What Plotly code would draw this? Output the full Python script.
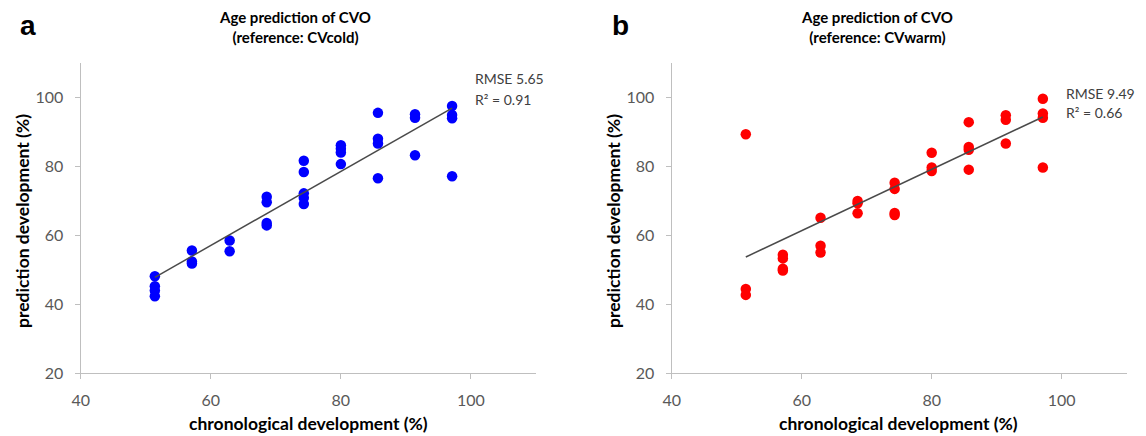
import plotly.graph_objects as go

# ---- data ----
cold_x = [51.4]*4 + [57.1]*3 + [62.9]*2 + [68.6]*4 + [74.3]*5 + [80.0]*4 + [85.7]*4 + [91.4]*3 + [97.1]*4
cold_y = [48.1, 45.2, 44.0, 42.3,
          55.6, 52.4, 51.8,
          58.5, 55.4,
          71.2, 69.6, 63.6, 62.9,
          81.7, 78.4, 72.2, 70.9, 69.1,
          86.2, 85.2, 84.1, 80.7,
          95.6, 88.1, 86.7, 76.6,
          95.2, 94.2, 83.3,
          97.6, 95.0, 94.0, 77.2]

warm_x = [51.4]*3 + [57.1]*4 + [62.9]*3 + [68.6]*3 + [74.3]*4 + [80.0]*3 + [85.7]*4 + [91.4]*3 + [97.1]*4
warm_y = [89.4, 44.4, 42.7,
          54.4, 53.3, 50.3, 49.8,
          65.1, 57.0, 55.0,
          70.0, 69.3, 66.4,
          75.3, 73.5, 66.5, 65.9,
          84.0, 79.7, 78.7,
          92.9, 85.7, 84.9, 79.1,
          94.9, 93.6, 86.7,
          99.7, 95.4, 94.2, 79.7]

# trendline end values as drawn in the reference
trend_x = [51.4, 97.1]
trend_cold = [47.8, 97.0]
trend_warm = [53.7, 94.4]

x_ticks = [40, 60, 80, 100]
y_ticks = [20, 40, 60, 80, 100]
stats_cold = ["RMSE 5.65", "R² = 0.91"]
stats_warm = ["RMSE 9.49", "R² = 0.66"]

W, H = 1146, 436
def px(x): return x / W
def py(y): return 1 - y / H

fig = go.Figure()

def add_panel(xs, ys, ty, color, xa, ya):
    fig.add_trace(go.Scatter(x=xs, y=ys, mode="markers",
                             marker=dict(color=color, size=10.5, line=dict(width=0)),
                             xaxis=xa, yaxis=ya, showlegend=False, hoverinfo="x+y"))
    fig.add_trace(go.Scatter(x=trend_x, y=ty, mode="lines",
                             line=dict(color="#4a4a4a", width=1.5),
                             xaxis=xa, yaxis=ya, showlegend=False, hoverinfo="skip"))

add_panel(cold_x, cold_y, trend_cold, "#0000FF", "x", "y")
add_panel(warm_x, warm_y, trend_warm, "#FF0000", "x2", "y2")

TICKFONT = dict(family="Lato, 'Open Sans', sans-serif", size=16, color="#595959")
axis_common = dict(showgrid=False, zeroline=False, showline=True, linecolor="#BFBFBF",
                   linewidth=1.2, ticks="outside", ticklen=5, tickcolor="#BFBFBF",
                   tickfont=TICKFONT, automargin=False)

top_px, bot_px = 63.3, 373.0
fig.update_layout(
    template="none",
    width=W, height=H, margin=dict(l=0, r=0, t=0, b=0, pad=0),
    paper_bgcolor="white", plot_bgcolor="white",
    xaxis=dict(domain=[px(80.7), px(536)], range=[40, 110], tickvals=x_ticks,
               anchor="y", ticklabelstandoff=8, **axis_common),
    yaxis=dict(domain=[py(bot_px), py(top_px)], range=[20, 110], tickvals=y_ticks,
               anchor="x", ticklabelstandoff=8, **axis_common),
    xaxis2=dict(domain=[px(671.7), px(1126.7)], range=[40, 110], tickvals=x_ticks,
                anchor="y2", ticklabelstandoff=8, **axis_common),
    yaxis2=dict(domain=[py(bot_px), py(top_px)], range=[20, 110], tickvals=y_ticks,
                anchor="x2", ticklabelstandoff=8, **axis_common),
)

LBL = dict(family="Lato, 'Open Sans', sans-serif", size=17.5, color="#000000")
TTL = dict(family="Lato, 'Open Sans', sans-serif", size=15, color="#000000")
STAT = dict(family="Lato, 'Open Sans', sans-serif", size=14, color="#404040")
LET = dict(family="'Liberation Sans', Arial, sans-serif", size=28, color="#000000")

ann = []
def A(text, x, y, font, xanchor="center", yanchor="middle", textangle=0, align="center"):
    ann.append(dict(text=text, x=px(x), y=py(y), xref="paper", yref="paper",
                    showarrow=False, font=font, xanchor=xanchor, yanchor=yanchor,
                    textangle=textangle, align=align, borderpad=0))

for off, name, ref, stats, sy in [(0, "a", "CVcold", stats_cold, 79),
                                   (591, "b", "CVwarm", stats_warm, 93)]:
    A("<b>%s</b>" % name, 28 + off + (1 if off else 0), 26, LET)
    A("<b>Age prediction of CVO</b><br><b>(reference: %s)</b>" % ref, 295 + off - (9 if off else 0), 27.5, TTL)
    A("<b>chronological development (%)</b>", 308 + off, 435, LBL, yanchor="bottom")
    A("<b>prediction development (%)</b>", 22 + off, 221, LBL, textangle=-90)
    A(stats[0], 474 + off, sy, STAT, xanchor="left")
    A(stats[1], 474 + off, sy + 20, STAT, xanchor="left")

fig.update_layout(annotations=ann)
fig.write_html("out.html", config={"displayModeBar": False},
               post_script="document.body.style.margin='0';document.body.style.overflow='hidden';")
